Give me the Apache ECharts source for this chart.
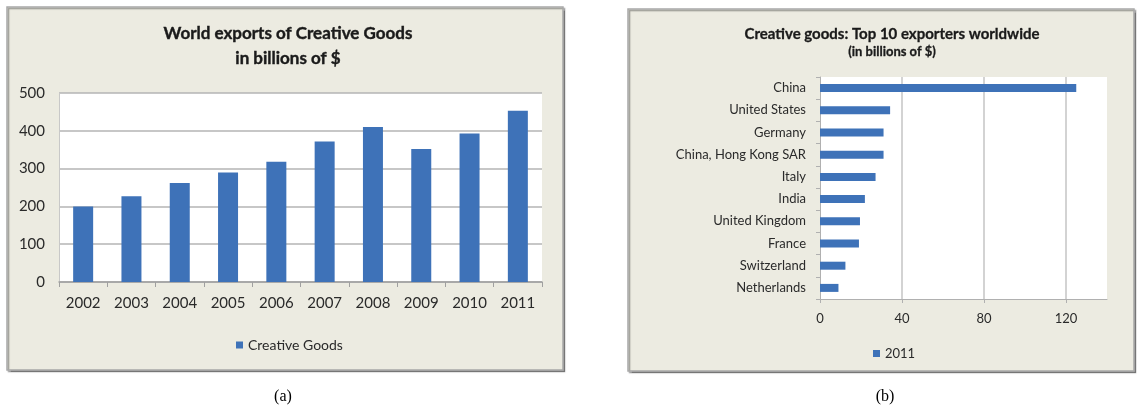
<!DOCTYPE html>
<html>
<head>
<meta charset="utf-8">
<script src="https://cdn.jsdelivr.net/npm/echarts@6/dist/echarts.min.js"></script>
<style>
html,body{margin:0;padding:0;background:#fff;}
#c{width:1137px;height:408px;}
</style>
</head>
<body>
<div id="c"></div>
<script>
// Panel (a): World exports of Creative Goods (billions of $)
const years = ['2002','2003','2004','2005','2006','2007','2008','2009','2010','2011'];
const worldExports = [200, 227, 262, 290, 318, 372, 410, 352, 393, 453];

// Panel (b): Top 10 exporters 2011 (billions of $)
const countries = ['China','United States','Germany','China, Hong Kong SAR','Italy','India','United Kingdom','France','Switzerland','Netherlands'];
const exports2011 = [125, 34.2, 31, 31, 27.1, 21.9, 19.5, 19, 12.4, 9];

const FONT = 'Lato, "Open Sans", sans-serif';
const TXT = '#2a2a2a';
const BAR = '#3E72B8';
const PANEL = '#ECEBE1';

const chart = echarts.init(document.getElementById('c'));
chart.setOption({
  animation: false,
  textStyle: { fontFamily: FONT },
  graphic: [
    { type: 'rect', z: -10, shape: { x: 7, y: 7, width: 556, height: 363 },
      style: { fill: PANEL, stroke: '#A8A8A8', lineWidth: 1.5, shadowColor: 'rgba(0,0,0,0.35)', shadowOffsetX: 1.5, shadowOffsetY: 1.5, shadowBlur: 1 } },
    { type: 'rect', z: -10, shape: { x: 628, y: 9, width: 506, height: 362 },
      style: { fill: PANEL, stroke: '#A8A8A8', lineWidth: 1.5, shadowColor: 'rgba(0,0,0,0.35)', shadowOffsetX: 1.5, shadowOffsetY: 1.5, shadowBlur: 1 } },
    { type: 'text', x: 283, y: 397, style: { text: '(a)', font: '16px "Liberation Serif", "Times New Roman", serif', fill: '#000', textAlign: 'center', textVerticalAlign: 'middle' } },
    { type: 'text', x: 885, y: 397, style: { text: '(b)', font: '16px "Liberation Serif", "Times New Roman", serif', fill: '#000', textAlign: 'center', textVerticalAlign: 'middle' } }
  ],
  title: [
    { text: 'World exports of Creative Goods\nin billions of $', left: 283, top: 16, textAlign: 'center',
      textStyle: { fontFamily: FONT, fontSize: 17, fontWeight: 'bold', color: '#1a1a1a', lineHeight: 25,
        textBorderColor: '#1a1a1a', textBorderWidth: 0.4 } },
    { text: 'Creative goods: Top 10 exporters worldwide', subtext: '(in billions of $)', left: 887, top: 22, textAlign: 'center', itemGap: 3,
      textStyle: { fontFamily: FONT, fontSize: 15, fontWeight: 'bold', color: '#1a1a1a', textBorderColor: '#1a1a1a', textBorderWidth: 0.3 },
      subtextStyle: { fontFamily: FONT, fontSize: 13, fontWeight: 'bold', color: '#1a1a1a', textBorderColor: '#1a1a1a', textBorderWidth: 0.3 } }
  ],
  legend: [
    { data: ['Creative Goods'], left: 231, top: 333, icon: 'rect', itemWidth: 7, itemHeight: 7, itemGap: 5,
      textStyle: { fontFamily: FONT, fontSize: 14, color: TXT } },
    { data: ['2011'], left: 868, top: 342, icon: 'rect', itemWidth: 7, itemHeight: 7, itemGap: 5,
      textStyle: { fontFamily: FONT, fontSize: 13, color: TXT } }
  ],
  grid: [
    { left: 59, top: 93, width: 483, height: 189, show: true, backgroundColor: '#fff', borderWidth: 0 },
    { left: 820, top: 77, width: 287, height: 222, show: true, backgroundColor: '#fff', borderWidth: 0 }
  ],
  xAxis: [
    { type: 'category', gridIndex: 0, data: years, boundaryGap: true,
      axisLine: { lineStyle: { color: '#A0A0A0', width: 1.5 } },
      axisTick: { show: true, alignWithLabel: false, length: 5, lineStyle: { color: '#A0A0A0' } },
      axisLabel: { fontFamily: FONT, fontSize: 15, color: TXT, margin: 14 } },
    { type: 'value', gridIndex: 1, min: 0, max: 140, interval: 40,
      axisLine: { show: true, lineStyle: { color: '#B0B0B0' } },
      axisTick: { show: true, length: 4, lineStyle: { color: '#B0B0B0' } },
      axisLabel: { fontFamily: FONT, fontSize: 13, color: TXT, margin: 13, showMaxLabel: false },
      splitLine: { show: true, showMaxLine: false, showMinLine: false, lineStyle: { color: '#C4C4C4', width: 1.5 } } }
  ],
  yAxis: [
    { type: 'value', gridIndex: 0, min: 0, max: 500, interval: 100,
      axisLine: { show: true, lineStyle: { color: '#C8C8C8' } },
      axisTick: { show: false },
      axisLabel: { fontFamily: FONT, fontSize: 15, color: TXT, margin: 14 },
      splitLine: { show: true, lineStyle: { color: '#B4B4B4', width: 1.5 } } },
    { type: 'category', gridIndex: 1, data: countries, inverse: true, boundaryGap: true,
      axisLine: { show: true, lineStyle: { color: '#B0B0B0' } },
      axisTick: { show: true, alignWithLabel: false, length: 4, lineStyle: { color: '#B0B0B0' } },
      axisLabel: { fontFamily: FONT, fontSize: 13, color: TXT, margin: 14 } }
  ],
  series: [
    { name: 'Creative Goods', type: 'bar', xAxisIndex: 0, yAxisIndex: 0, data: worldExports, barWidth: 20,
      itemStyle: { color: BAR } },
    { name: '2011', type: 'bar', xAxisIndex: 1, yAxisIndex: 1, data: exports2011, barWidth: 8,
      itemStyle: { color: BAR } }
  ]
});
</script>
</body>
</html>
